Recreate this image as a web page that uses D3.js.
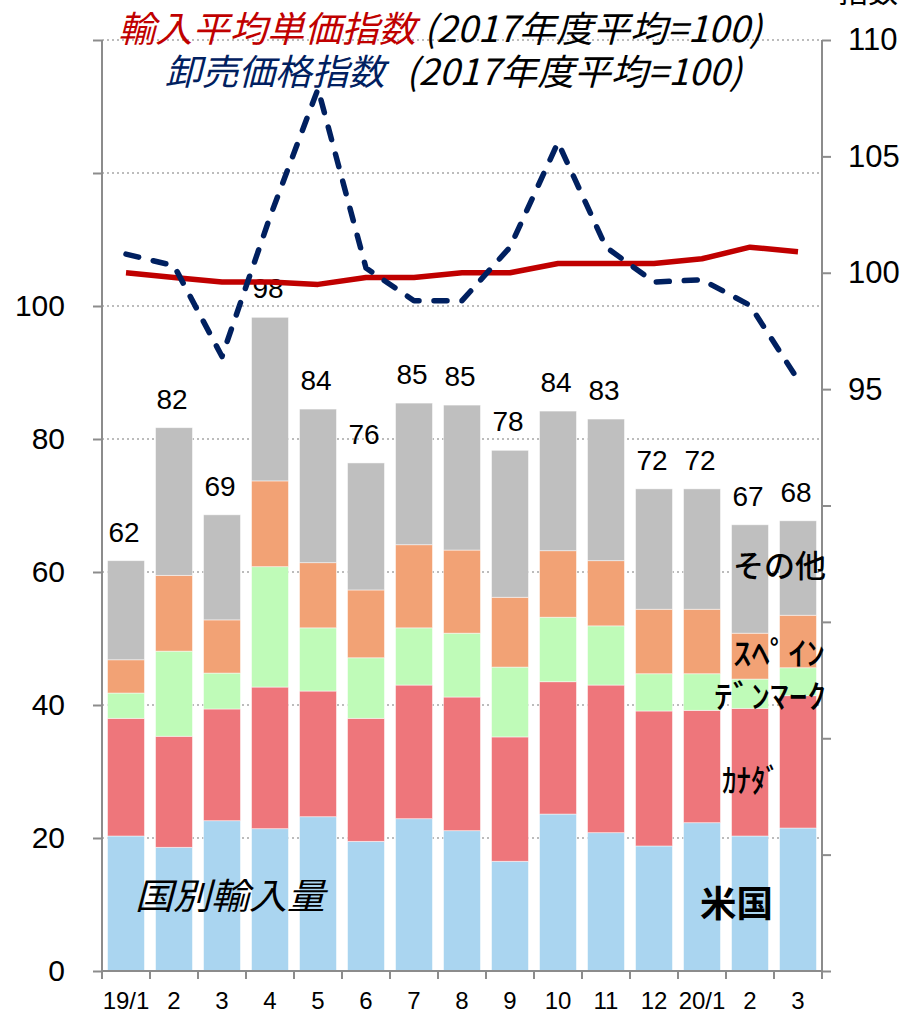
<!DOCTYPE html>
<html>
<head>
<meta charset="utf-8">
<script src="https://cdn.jsdelivr.net/npm/d3@7"></script>
<style>
body { margin: 0; background: #fff; }
svg { display: block; }
</style>
</head>
<body>
<svg id="chart"></svg>
<script>
// monthly import volume by country + price indices (FY2017 avg = 100)
const months = ['19/1', '2', '3', '4', '5', '6', '7', '8', '9', '10', '11', '12', '20/1', '2', '3'];
const usa     = [20.3, 18.6, 22.6, 21.4, 23.2, 19.5, 22.9, 21.1, 16.5, 23.6, 20.8, 18.8, 22.3, 20.3, 21.5];
const canada  = [17.7, 16.7, 16.8, 21.3, 18.9, 18.5, 20.1, 20.1, 18.7, 19.9, 22.2, 20.3, 16.9, 19.2, 19.9];
const denmark = [3.8, 12.8, 5.4, 18.1, 9.5, 9.1, 8.6, 9.6, 10.5, 9.7, 8.9, 5.6, 5.5, 4.4, 4.2];
const spain   = [5.0, 11.4, 8.0, 12.9, 9.8, 10.2, 12.5, 12.5, 10.5, 10.0, 9.8, 9.7, 9.7, 6.9, 7.9];
const others  = [14.9, 22.2, 15.8, 24.6, 23.1, 19.1, 21.3, 21.8, 22.1, 21.0, 21.3, 18.1, 18.1, 16.3, 14.2];
const totals  = [62, 82, 69, 98, 84, 76, 85, 85, 78, 84, 83, 72, 72, 67, 68];
const importPrice    = [100.0, 99.8, 99.6, 99.6, 99.5, 99.8, 99.8, 100.0, 100.0, 100.4, 100.4, 100.4, 100.6, 101.1, 100.9];
const wholesalePrice = [100.8, 100.3, 96.4, 102.4, 107.9, 100.2, 98.8, 98.8, 101.1, 105.6, 101.1, 99.6, 99.7, 98.6, 95.4];
const leftTicks  = [0, 20, 40, 60, 80, 100, 120, 140];
const rightTicks = [70, 75, 80, 85, 90, 95, 100, 105, 110];

const width = 902;
const height = 1014;
const plot = { left: 102, right: 822, top: 40, bottom: 971 };

const keys = ['usa', 'canada', 'denmark', 'spain', 'others'];
const colors = {
    usa: '#aad5f0',
    canada: '#ee767b',
    denmark: '#bffbb8',
    spain: '#f2a275',
    others: '#bfbfbf'
};

const rows = months.map((m, i) => ({
    idx: i,
    usa: usa[i],
    canada: canada[i],
    denmark: denmark[i],
    spain: spain[i],
    others: others[i]
}));

const x = d3.scaleBand()
    .domain(d3.range(months.length))
    .range([plot.left, plot.right])
    .paddingInner(0.23)
    .paddingOuter(0.115);

const yL = d3.scaleLinear()
    .domain([0, 140])
    .range([plot.bottom, plot.top]);

const yR = d3.scaleLinear()
    .domain([70, 110])
    .range([plot.bottom, plot.top]);

const svg = d3.select('#chart')
    .attr('width', width)
    .attr('height', height);

const numFont = "'Liberation Sans', Arial, sans-serif";
const jpFont = "'Noto Sans CJK JP', sans-serif";
const axisColor = '#8c8c8c';

// dotted gridlines
svg.append('g')
    .selectAll('line')
    .data(leftTicks.filter(t => t > 0))
    .enter()
    .append('line')
    .attr('x1', plot.left)
    .attr('x2', plot.right)
    .attr('y1', d => yL(d))
    .attr('y2', d => yL(d))
    .attr('stroke', '#a6a6a6')
    .attr('stroke-width', 1.5)
    .attr('stroke-dasharray', '2,3');

// stacked bars
const stacked = d3.stack().keys(keys)(rows);

svg.append('g')
    .selectAll('g')
    .data(stacked)
    .enter()
    .append('g')
    .attr('fill', d => colors[d.key])
    .selectAll('rect')
    .data(d => d)
    .enter()
    .append('rect')
    .attr('x', d => x(d.data.idx))
    .attr('y', d => yL(d[1]))
    .attr('width', x.bandwidth())
    .attr('height', d => yL(d[0]) - yL(d[1]))
    .attr('stroke', '#ffffff')
    .attr('stroke-opacity', 0.6)
    .attr('stroke-width', 0.8);

// totals above bars
svg.append('g')
    .selectAll('text')
    .data(rows)
    .enter()
    .append('text')
    .attr('x', d => x(d.idx) + x.bandwidth() / 2 - 2)
    .attr('y', d => yL(d.usa + d.canada + d.denmark + d.spain + d.others) - 19)
    .attr('text-anchor', 'middle')
    .attr('font-family', numFont)
    .attr('font-size', 28)
    .attr('fill', '#000')
    .text((d, i) => totals[i]);

// price index lines (right axis)
const line = d3.line()
    .x((d, i) => x(i) + x.bandwidth() / 2)
    .y(d => yR(d));

svg.append('path')
    .datum(importPrice)
    .attr('d', line)
    .attr('fill', 'none')
    .attr('stroke', '#c00000')
    .attr('stroke-width', 5.5)
    .attr('stroke-linejoin', 'round');

svg.append('path')
    .datum(wholesalePrice)
    .attr('d', line)
    .attr('fill', 'none')
    .attr('stroke', '#002060')
    .attr('stroke-width', 5.5)
    .attr('stroke-linecap', 'round')
    .attr('stroke-linejoin', 'round')
    .attr('stroke-dasharray', '13,15');

// left axis
const leftAxis = svg.append('g')
    .attr('transform', `translate(${plot.left}, 0)`)
    .call(d3.axisLeft(yL)
        .tickValues(leftTicks)
        .tickSize(9)
        .tickPadding(28)
        .tickFormat(d => d <= 100 ? d : ''));

// right axis
const rightAxis = svg.append('g')
    .attr('transform', `translate(${plot.right}, 0)`)
    .call(d3.axisRight(yR)
        .tickValues(rightTicks)
        .tickSize(9)
        .tickPadding(17)
        .tickFormat(d => d >= 95 ? d : ''));

// bottom axis, ticks at category boundaries
const bottomAxis = svg.append('g')
    .attr('transform', `translate(0, ${plot.bottom})`)
    .call(d3.axisBottom(x)
        .tickSize(0)
        .tickPadding(21)
        .tickFormat(i => months[i]));

bottomAxis.append('g')
    .selectAll('line')
    .data(d3.range(months.length + 1))
    .enter()
    .append('line')
    .attr('x1', i => plot.left + i * x.step())
    .attr('x2', i => plot.left + i * x.step())
    .attr('y1', 0)
    .attr('y2', 8)
    .attr('stroke', axisColor)
    .attr('stroke-width', 2);

[leftAxis, rightAxis, bottomAxis].forEach(ax => {
    ax.select('.domain')
        .attr('stroke', axisColor)
        .attr('stroke-width', 2);
    ax.selectAll('.tick line')
        .attr('stroke', axisColor)
        .attr('stroke-width', 2);
    ax.selectAll('.tick text')
        .attr('font-family', numFont)
        .attr('fill', '#000');
});
leftAxis.selectAll('.tick text').attr('font-size', 30);
rightAxis.selectAll('.tick text').attr('font-size', 31);
bottomAxis.selectAll('.tick text').attr('font-size', 24);
bottomAxis.select('.domain').attr('d', `M${plot.left},0H${plot.right}`);
leftAxis.select('.domain').attr('d', `M0,${plot.top}V${plot.bottom}`);
rightAxis.select('.domain').attr('d', `M0,${plot.top}V${plot.bottom}`);

// right axis unit (mostly cut off at the top)
svg.append('text')
    .attr('x', 838)
    .attr('y', 2)
    .attr('font-family', jpFont)
    .attr('font-size', 30)
    .attr('fill', '#000')
    .text('指数');

// legend titles
function label(txt, x0, y0, len, size, color, opts = {}) {
    return svg.append('text')
        .attr('x', x0)
        .attr('y', y0)
        .attr('font-family', opts.font || jpFont)
        .attr('font-size', size)
        .attr('font-style', opts.italic ? 'italic' : 'normal')
        .attr('font-weight', opts.weight || 400)
        .attr('fill', color)
        .attr('textLength', len)
        .attr('lengthAdjust', 'spacingAndGlyphs')
        .text(txt);
}

label('輸入平均単価指数', 118, 42, 298, 36, '#c00000', { italic: true });
label('(2017年度平均=100)', 424, 42, 338, 36, '#000', { italic: true });
label('卸売価格指数', 165, 85, 220, 36, '#002060', { italic: true });
label('(2017年度平均=100)', 406, 85, 336, 36, '#000', { italic: true });

// country labels
label('その他', 733, 577, 93, 31, '#000', { weight: 500 });
label('ｽﾍﾟｲﾝ', 733, 665, 92, 32, '#000', { weight: 500 });
label('ﾃﾞﾝﾏｰｸ', 714, 708, 112, 32, '#000', { weight: 500 });
label('ｶﾅﾀﾞ', 722, 792, 58, 32, '#000', { weight: 500 });
label('米国', 700, 917, 73, 36, '#000', { weight: 700 });
label('国別輸入量', 135, 909, 190, 36, '#000', { italic: true });
</script>
</body>
</html>
